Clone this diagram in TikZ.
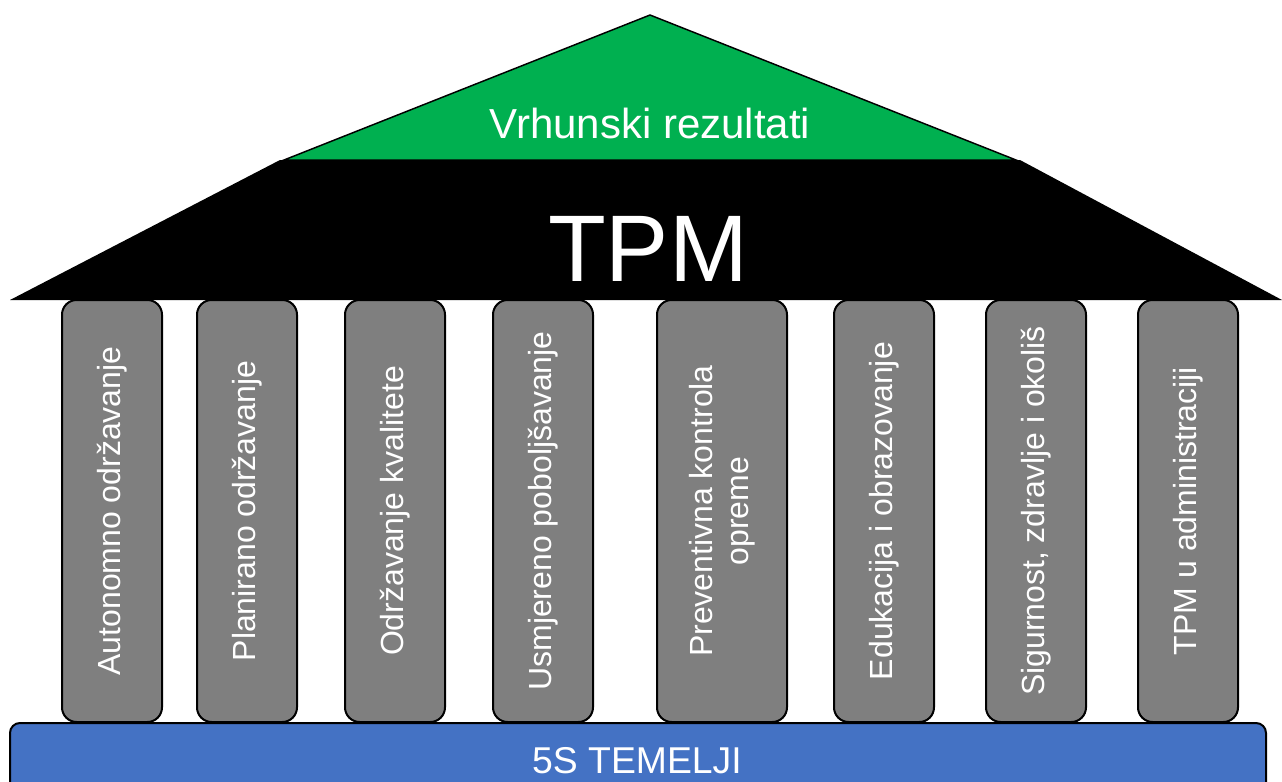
\documentclass[tikz,border=0pt]{standalone}
\usepackage{fontspec}
\setmainfont{Liberation Sans}
\definecolor{roofgreen}{HTML}{00B050}
\definecolor{pillargray}{HTML}{7F7F7F}
\definecolor{baseblue}{HTML}{4472C4}
\begin{document}
\begin{tikzpicture}[x=0.75pt, y=-0.75pt,
    pillar/.style={draw=black, line width=1.5pt, fill=pillargray, rounded corners=11pt,
        rotate=90, minimum width=316.5pt, minimum height=75pt, inner sep=0pt,
        text=white, align=center, font=\fontsize{24}{27}\selectfont},
    roofline/.style={draw=black, line width=1.1pt}]
\useasboundingbox (0,0) rectangle (1282,782);
\clip (0,0) rectangle (1282,782);
% base
\draw[line width=1.5pt, fill=baseblue, rounded corners=7.5pt] (10,723) rectangle (1266,830);
\node[anchor=base, text=white, font=\fontsize{28}{30}\selectfont] (temelji) at (637,773) {5S TEMELJI};
% roof
\fill[roofgreen, roofline] (650,15) -- (1016,160) -- (284,160) -- cycle;
\fill[black] (280,160) -- (1020,160) -- (1282,300) -- (10,300) -- cycle;
\node[anchor=base, text=white, font=\fontsize{31.5}{33}\selectfont] (vrh) at (650,138) {Vrhunski rezultati};
\node[anchor=base, text=white, font=\fontsize{71}{75}\selectfont] (tpm) at (648,281) {TPM};
% pillars
\node[pillar] (p1) at (112,511) {Autonomno održavanje};
\node[pillar] (p2) at (247,511) {Planirano održavanje};
\node[pillar] (p3) at (395,511) {Održavanje kvalitete};
\node[pillar] (p4) at (543,511) {Usmjereno poboljšavanje};
\node[pillar, minimum height=97.5pt] (p5) at (722,511) {Preventivna kontrola\\opreme};
\node[pillar] (p6) at (884,511) {Edukacija i obrazovanje};
\node[pillar] (p7) at (1036,511) {Sigurnost, zdravlje i okoliš};
\node[pillar] (p8) at (1188,511) {TPM u administraciji};
\end{tikzpicture}
\end{document}
